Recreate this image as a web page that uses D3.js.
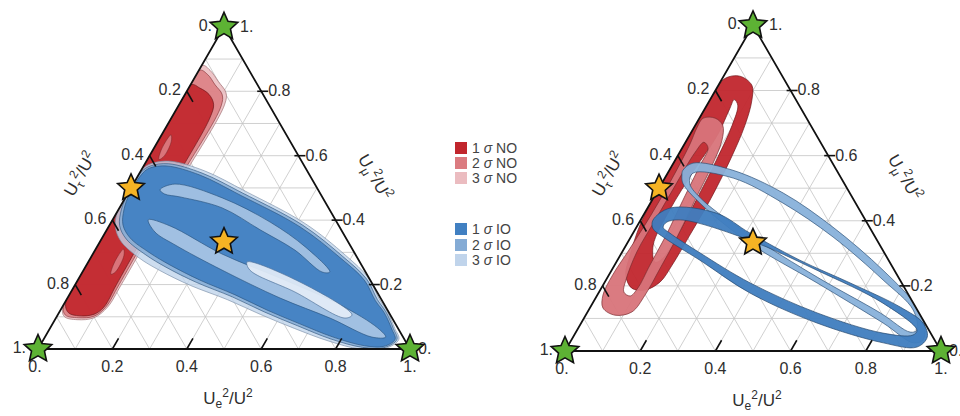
<!DOCTYPE html>
<html><head><meta charset="utf-8">
<script src="https://cdn.jsdelivr.net/npm/d3@7"></script>
<style>body{margin:0;background:#fff;} svg{display:block;font-family:"Liberation Sans",Arial,sans-serif;}</style>
</head><body><svg id="chart" width="960" height="416"></svg>
<script>
// ---------- DATA (ternary coordinates [Ue^2/U^2, Umu^2/U^2]; Utau^2/U^2 = 1 - e - mu) ----------
const gridValues = [0.1,0.2,0.3,0.4,0.5,0.6,0.7,0.8,0.9];
const tickMarks = [0.2,0.4,0.6,0.8];
const tickValues = [0,0.2,0.4,0.6,0.8,1];
const tickLabels = ["0.","0.2","0.4","0.6","0.8","1."];

const legendLabels = [["1","NO"],["2","NO"],["3","NO"],["1","IO"],["2","IO"],["3","IO"]];
const legendColors = ["#c1262d","#db7b80","#ebbcc0","#4180c2","#84abd5","#c0d4eb"];

const vertexStars = [[0,0],[1,0],[0,1]];
const bestFitStars = [[0.3333,0.3333],[0,0.5]];

// Left panel: normal ordering (NO) regions
const leftNO_3s = [[0,0.88],[0.03,0.865],[0.07,0.83],[0.108,0.795],[0.122,0.76],[0.122,0.5],[0.124,0.2],[0.122,0.13],[0.102,0.097],[0.06,0.091],[0.02,0.101],[0,0.135]];
const leftNO_2s = [[0,0.865],[0.03,0.852],[0.066,0.82],[0.1,0.79],[0.115,0.755],[0.115,0.5],[0.118,0.2],[0.117,0.13],[0.1,0.102],[0.06,0.097],[0.02,0.106],[0,0.14]];
const leftNO_1s = [[0,0.82],[0.03,0.81],[0.065,0.79],[0.092,0.76],[0.103,0.72],[0.106,0.5],[0.111,0.2],[0.112,0.13],[0.097,0.108],[0.06,0.103],[0.025,0.113],[0,0.15]];
const leftNO_spot1 = [[0.025,0.665],[0.036,0.645],[0.04,0.6],[0.031,0.588],[0.022,0.62]];
const leftNO_spot2 = [[0.075,0.31],[0.086,0.29],[0.089,0.24],[0.08,0.232],[0.071,0.27]];

// Left panel: inverted ordering (IO) regions
const leftIO_3s = [[0,0.555],[0.016,0.575],[0.063,0.583],[0.171,0.553],[0.312,0.49],[0.524,0.389],[0.681,0.291],[0.779,0.22],[0.84,0.155],[0.882,0.115],[0.927,0.064],[0.955,0.03],[0.93,0.0],[0.865,0.0],[0.768,0.025],[0.657,0.064],[0.545,0.107],[0.433,0.153],[0.312,0.197],[0.205,0.244],[0.13,0.283],[0.055,0.335],[0.018,0.38],[0,0.43]];
const leftIO_2s = [[0.003,0.55],[0.018,0.568],[0.063,0.575],[0.168,0.546],[0.308,0.484],[0.52,0.384],[0.676,0.287],[0.775,0.217],[0.836,0.153],[0.879,0.114],[0.924,0.063],[0.95,0.03],[0.928,0.004],[0.87,0.005],[0.772,0.031],[0.662,0.072],[0.551,0.115],[0.441,0.162],[0.322,0.207],[0.217,0.254],[0.144,0.292],[0.067,0.341],[0.028,0.383],[0.008,0.432],[0,0.487]];
const leftIO_1s = [[0.009,0.547],[0.020,0.562],[0.063,0.568],[0.165,0.540],[0.304,0.478],[0.515,0.379],[0.671,0.283],[0.770,0.214],[0.832,0.150],[0.875,0.112],[0.920,0.062],[0.945,0.030],[0.925,0.008],[0.873,0.010],[0.775,0.037],[0.665,0.078],[0.555,0.121],[0.446,0.168],[0.328,0.214],[0.224,0.261],[0.152,0.298],[0.075,0.345],[0.036,0.385],[0.015,0.432],[0.005,0.484]];
const leftIO_streakUpper = [[0.081,0.494],[0.112,0.512],[0.261,0.469],[0.427,0.394],[0.560,0.317],[0.665,0.239],[0.644,0.239],[0.537,0.307],[0.412,0.370],[0.276,0.438],[0.146,0.472],[0.100,0.481]];
const leftIO_streakLower = [[0.096,0.401],[0.164,0.382],[0.347,0.295],[0.541,0.220],[0.744,0.137],[0.881,0.065],[0.916,0.037],[0.879,0.037],[0.737,0.096],[0.572,0.158],[0.372,0.245],[0.207,0.323],[0.133,0.363]];
const leftIO_core = [[0.427,0.270],[0.600,0.208],[0.791,0.106],[0.777,0.096],[0.602,0.177],[0.447,0.245]];

// Right panel: NO rings
const rightNO_1s_outer = [[0.007,0.837],[0.043,0.844],[0.089,0.816],[0.112,0.770],[0.132,0.693],[0.146,0.586],[0.154,0.463],[0.154,0.356],[0.153,0.264],[0.147,0.212],[0.119,0.187],[0.081,0.193],[0.045,0.233],[0.026,0.294],[0.006,0.387],[0,0.479],[0,0.586],[0,0.693],[0,0.785]];
const rightNO_1s_inner = [[0.064,0.772],[0.082,0.755],[0.098,0.693],[0.109,0.592],[0.117,0.469],[0.121,0.365],[0.118,0.285],[0.103,0.273],[0.072,0.325],[0.062,0.433],[0.066,0.555],[0.074,0.663],[0.066,0.745]];
const rightNO_2s_outer = [[0.010,0.715],[0.042,0.715],[0.073,0.693],[0.094,0.647],[0.106,0.571],[0.114,0.463],[0.123,0.356],[0.126,0.255],[0.127,0.172],[0.118,0.120],[0.078,0.110],[0.035,0.132],[0.015,0.172],[0.010,0.233],[0.015,0.310],[0.02,0.417],[0.02,0.525],[0.015,0.632],[0.008,0.687]];
const rightNO_2s_inner = [[0.049,0.641],[0.069,0.623],[0.074,0.571],[0.082,0.463],[0.091,0.356],[0.094,0.264],[0.097,0.193],[0.089,0.169],[0.066,0.181],[0.053,0.218],[0.039,0.304],[0.039,0.411],[0.039,0.518],[0.041,0.610]];

// Right panel: IO rings
const rightIO_1s_outer = [[0.033,0.402],[0.060,0.439],[0.192,0.423],[0.311,0.362],[0.485,0.279],[0.654,0.209],[0.824,0.135],[0.909,0.086],[0.942,0.043],[0.930,0.012],[0.834,0.025],[0.627,0.086],[0.403,0.178],[0.219,0.279],[0.086,0.350],[0.045,0.377]];
const rightIO_1s_inner = [[0.073,0.396],[0.113,0.402],[0.322,0.340],[0.546,0.248],[0.772,0.147],[0.904,0.064],[0.901,0.049],[0.818,0.055],[0.612,0.117],[0.388,0.209],[0.209,0.301],[0.098,0.362],[0.071,0.380]];
const rightIO_2s_outer = [[0.036,0.555],[0.052,0.577],[0.169,0.555],[0.338,0.485],[0.523,0.380],[0.722,0.248],[0.869,0.135],[0.920,0.074],[0.935,0.034],[0.914,0.025],[0.803,0.086],[0.566,0.209],[0.326,0.331],[0.132,0.454],[0.056,0.515],[0.041,0.540]];
const rightIO_2s_inner = [[0.067,0.546],[0.182,0.531],[0.353,0.454],[0.538,0.350],[0.737,0.218],[0.863,0.126],[0.904,0.064],[0.889,0.058],[0.780,0.117],[0.557,0.227],[0.314,0.356],[0.135,0.463],[0.074,0.515]];

// ---------- DRAWING ----------
const svg = d3.select("#chart");
const textColor = "#2e2e2e";

function starPath(R, r) {
  const pts = d3.range(10).map(i => {
    const a = -Math.PI/2 + i*Math.PI/5, rad = i % 2 ? r : R;
    return [rad*Math.cos(a), rad*Math.sin(a)];
  });
  return d3.line()(pts) + "Z";
}

function drawTernary(cfg) {
  const g = svg.append("g");
  const H = cfg.W*Math.sqrt(3)/2;
  const xs = d3.scaleLinear().domain([0,1]).range([cfg.x0, cfg.x0+cfg.W]);
  const ys = d3.scaleLinear().domain([0,1]).range([cfg.y0, cfg.y0-H]);
  const P = (e,m) => [xs(e+m/2), ys(m)];
  const shape = d3.line().x(d => P(d[0],d[1])[0]).y(d => P(d[0],d[1])[1]).curve(d3.curveCatmullRomClosed.alpha(0.5));
  const seg = d3.line();

  const clipId = cfg.id + "-clip";
  g.append("clipPath").attr("id", clipId).append("path").attr("d", seg([P(0,0),P(1,0),P(0,1)]) + "Z");

  // grid
  const grid = g.append("g").attr("stroke","#c4c4c4").attr("stroke-width",0.8).attr("fill","none");
  gridValues.forEach(v => {
    grid.append("path").attr("d", seg([P(v,0),P(v,1-v)]));
    grid.append("path").attr("d", seg([P(0,v),P(1-v,v)]));
    grid.append("path").attr("d", seg([P(1-v,0),P(0,1-v)]));
  });

  // regions
  const reg = g.append("g").attr("clip-path", `url(#${clipId})`);
  cfg.layers.forEach(L => {
    reg.append("path")
      .attr("d", L.rings.map(r => shape(r)).join(" "))
      .attr("fill", L.fill).attr("fill-rule","evenodd")
      .attr("fill-opacity", L.op == null ? 0.92 : L.op)
      .attr("stroke", L.stroke).attr("stroke-width", L.sw || 0.8)
      .attr("stroke-opacity", 0.85);
  });

  // frame
  g.append("path").attr("d", seg([P(0,0),P(1,0),P(0,1)]) + "Z")
    .attr("fill","none").attr("stroke","#111").attr("stroke-width",1.8).attr("stroke-linejoin","miter");

  // ticks
  const ticks = g.append("g").attr("stroke","#111").attr("stroke-width",1.6);
  tickMarks.forEach(v => {
    ticks.append("path").attr("d", seg([P(v,0), P(v,0.033)]));                 // bottom (Ue)
    ticks.append("path").attr("d", seg([P(0,1-v), P(0.033,1-v-0.033)]));       // left (Utau)
    const pr = P(1-v, v);
    ticks.append("path").attr("d", seg([[pr[0]-4, pr[1]], [pr[0]+7, pr[1]]])); // right (Umu)
  });

  // tick labels
  const lab = g.append("g").attr("font-size",16).attr("fill",textColor);
  tickValues.forEach((v,i) => {
    const pb = P(v,0);
    lab.append("text").attr("x", pb[0] + (v===0 ? -3 : 0)).attr("y", pb[1]+23).attr("text-anchor","middle").text(tickLabels[i]);
    const pl = P(0,1-v);
    const offL = (v===0||v===1) ? 12 : 6;
    lab.append("text").attr("x", pl[0]-offL).attr("y", pl[1]+4).attr("text-anchor","end").text(tickLabels[i]);
    const pr = P(1-v, v);
    const offR = (v===1) ? 16 : (v===0 ? 8 : 7);
    lab.append("text").attr("x", pr[0]+offR).attr("y", pr[1]+5).attr("text-anchor","start").text(tickLabels[i]);
  });

  // axis titles
  function title(x, y, rot, sub) {
    const t = g.append("text").attr("transform", `translate(${x},${y}) rotate(${rot})`)
      .attr("text-anchor","middle").attr("font-size",17).attr("fill",textColor);
    t.append("tspan").text("U");
    t.append("tspan").attr("font-size",12).attr("dy",4).text(sub);
    t.append("tspan").attr("font-size",12).attr("dy",-11).text("2");
    t.append("tspan").attr("dy",7).text("/U");
    t.append("tspan").attr("font-size",12).attr("dy",-7).text("2");
  }
  const mb = P(0.5,0);
  title(mb[0]+4, mb[1]+55, 0, "e");
  const ml = P(0,0.5);
  title(ml[0]-46, ml[1]-11, -60, "\u03c4");
  const mr = P(0.5,0.5);
  title(mr[0]+53, mr[1]-8, 60, "\u03bc");

  // stars
  vertexStars.forEach(s => {
    const p = P(s[0], s[1]);
    g.append("path").attr("d", starPath(14.5, 6.8)).attr("transform", `translate(${p[0]},${p[1]})`)
      .attr("fill","#5db234").attr("stroke","#111").attr("stroke-width",1.6).attr("stroke-linejoin","miter");
  });
  bestFitStars.forEach(s => {
    const p = P(s[0], s[1]);
    g.append("path").attr("d", starPath(14, 6.6)).attr("transform", `translate(${p[0]},${p[1]})`)
      .attr("fill","#f5b324").attr("stroke","#111").attr("stroke-width",1.6).attr("stroke-linejoin","miter");
  });
}

const C = legendColors;
drawTernary({
  id: "left", x0: 38, y0: 349, W: 372,
  layers: [
    {rings:[leftNO_3s], fill:C[2], stroke:"#a07074", op:0.85},
    {rings:[leftNO_2s], fill:C[1], stroke:"#8c3a3e", op:0.85},
    {rings:[leftNO_1s], fill:C[0], stroke:"#6e1519"},
    {rings:[leftNO_spot1], fill:C[1], stroke:"#7a2226", sw:0.6},
    {rings:[leftNO_spot2], fill:C[1], stroke:"#7a2226", sw:0.6},
    {rings:[leftIO_3s], fill:C[5], stroke:"#7f93ab", op:0.8},
    {rings:[leftIO_2s], fill:C[4], stroke:"#35597f", op:0.85},
    {rings:[leftIO_1s], fill:C[3], stroke:"#2b5682"},
    {rings:[leftIO_streakUpper], fill:"#a6c3e3", stroke:"#2b5682", sw:0.8},
    {rings:[leftIO_streakLower], fill:"#a9c5e4", stroke:"#2b5682", sw:0.8},
    {rings:[leftIO_core], fill:"#e4edf7", stroke:"#4f7199", sw:0.8}
  ]
});
drawTernary({
  id: "right", x0: 565, y0: 351, W: 376,
  layers: [
    {rings:[rightNO_1s_outer, rightNO_1s_inner], fill:C[0], stroke:"#6e1519", op:0.95},
    {rings:[rightNO_2s_outer, rightNO_2s_inner], fill:"#d8747a", stroke:"#7a2a2e", op:0.95},
    {rings:[rightIO_2s_outer, rightIO_2s_inner], fill:"#88b1da", stroke:"#2b4f75", op:0.95},
    {rings:[rightIO_1s_outer, rightIO_1s_inner], fill:"#3f7dbf", stroke:"#24466b", op:0.95}
  ]
});

// legend
const leg = svg.append("g").attr("font-size",14).attr("fill","#444");
const legY = [148,163,178,229,245,260];
legendLabels.forEach((l,i) => {
  leg.append("rect").attr("x",455).attr("y",legY[i]-6).attr("width",12).attr("height",12).attr("fill",legendColors[i]);
  const t = leg.append("text").attr("x",472).attr("y",legY[i]+5);
  t.append("tspan").text(l[0] + " ");
  t.append("tspan").attr("font-style","italic").text("\u03c3");
  t.append("tspan").text(" " + l[1]);
});
</script></body></html>
